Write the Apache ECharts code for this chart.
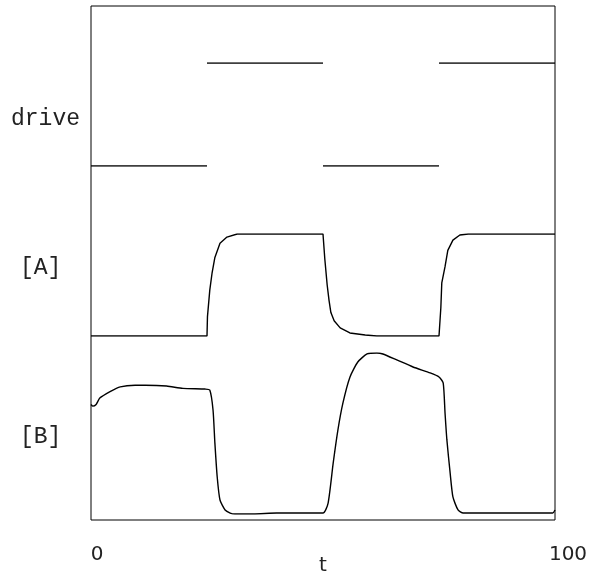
<!DOCTYPE html>
<html>
<head>
<meta charset="utf-8">
<script src="https://cdn.jsdelivr.net/npm/echarts@6/dist/echarts.min.js"></script>
<style>
  html, body { margin: 0; padding: 0; background: #fff; }
  #main { width: 590px; height: 581px; }
</style>
</head>
<body>
<div id="main"></div>
<script>
// drive: square wave, null breaks the line at each switch
var driveT = [0, 25, 25, 25, 50, 50, 50, 75, 75, 75, 100];
var driveV = [0, 0, null, 1, 1, null, 0, 0, null, 1, 1];

// [A] (scaled 0..1)
var aT = [0, 25, 25.1, 25.6, 26.1, 26.7, 27.8, 29.3, 31.5, 50, 50.4, 50.9, 51.3, 51.7, 52.4, 53.7, 55.8, 59.1, 61.6,
          75, 75.4, 75.6, 76.3, 76.9, 78.0, 79.5, 81.3, 100];
var aV = [0, 0, 0.19, 0.45, 0.62, 0.77, 0.91, 0.97, 1, 1, 0.75, 0.5, 0.35, 0.23, 0.15, 0.08, 0.03, 0.01, 0,
          0, 0.28, 0.52, 0.68, 0.84, 0.94, 0.99, 1, 1];

// [B] (scaled 0..1)
var bT = [0, 0.4, 1.1, 1.9, 4.1, 6.3, 9.5, 11.7, 16.3, 19.8, 24.6, 25.6, 26.3, 26.7, 27.2, 27.8, 28.9, 30.0, 31.0, 35, 40,
          50, 51.1, 52.2, 53.2, 54.3, 55.8, 57.5, 59.5, 61.6, 62.9, 65.9, 69.4, 73.1, 75, 75.9, 76.3, 76.7, 77.4, 78.0, 79.1, 80.2,
          99.5, 100];
var bV = [0.68, 0.67, 0.68, 0.72, 0.76, 0.79, 0.80, 0.80, 0.795, 0.78, 0.776, 0.77, 0.646, 0.44, 0.23, 0.087, 0.025, 0.006, 0, 0, 0.006,
          0.006, 0.068, 0.317, 0.52, 0.69, 0.85, 0.944, 0.994, 1, 0.994, 0.957, 0.913, 0.876, 0.851, 0.814, 0.627, 0.46, 0.255, 0.106, 0.025, 0.006,
          0.006, 0.025];

var rowLabels = ['drive', '[A]', '[B]'];
var xTicks = ['0', '100'];
var xName = 't';

function pairs(t, v) {
    var out = [];
    for (var i = 0; i < t.length; i++) {
        out.push([t[i], v[i] === null ? '-' : v[i]]);
    }
    return out;
}

var myChart = echarts.init(document.getElementById('main'));

var hiddenX = function (i) {
    return { type: 'value', gridIndex: i, min: 0, max: 100, show: false };
};
var hiddenY = function (i) {
    return { type: 'value', gridIndex: i, min: 0, max: 1, show: false };
};
var lineStyle = { color: '#000', width: 1.4 };

var option = {
    animation: false,
    backgroundColor: '#fff',
    grid: [
        { left: 91, right: 35, top: 6, bottom: 61, outerBoundsMode: 'none', containLabel: false,
          show: true, borderColor: '#000', borderWidth: 1, backgroundColor: 'transparent' },
        { left: 91, right: 35, top: 63, height: 103, outerBoundsMode: 'none' },
        { left: 91, right: 35, top: 234, height: 102, outerBoundsMode: 'none' },
        { left: 91, right: 35, top: 353, height: 161, outerBoundsMode: 'none' }
    ],
    xAxis: [
        {
            type: 'value', gridIndex: 0, min: 0, max: 100, interval: 100,
            axisLine: { show: false }, axisTick: { show: false }, splitLine: { show: false },
            axisLabel: {
                margin: 25,
                fontFamily: 'DejaVu Sans', fontSize: 20, color: '#222',
                formatter: function (v) {
                    return v === 0 ? '{a|' + xTicks[0] + '}' : '{b|' + xTicks[1] + '}';
                },
                rich: {
                    a: { fontFamily: 'DejaVu Sans', fontSize: 20, color: '#222', padding: [0, 0, 0, 12] },
                    b: { fontFamily: 'DejaVu Sans', fontSize: 20, color: '#222', padding: [0, 0, 0, 26] }
                }
            },
            name: xName, nameLocation: 'middle', nameGap: 36, nameMoveOverlap: false,
            nameTextStyle: { fontFamily: 'DejaVu Sans', fontSize: 20, color: '#222' }
        },
        hiddenX(1), hiddenX(2), hiddenX(3)
    ],
    yAxis: [
        { type: 'value', gridIndex: 0, min: 0, max: 1, show: false },
        hiddenY(1), hiddenY(2), hiddenY(3)
    ],
    graphic: [
        { type: 'text', left: 11, top: 107, style: { text: rowLabels[0], font: '23px "Liberation Mono"', fill: '#222' } },
        { type: 'text', left: 20, top: 256, style: { text: rowLabels[1], font: '23px "Liberation Mono"', fill: '#222' } },
        { type: 'text', left: 20, top: 425, style: { text: rowLabels[2], font: '23px "Liberation Mono"', fill: '#222' } }
    ],
    series: [
        { name: 'drive', type: 'line', xAxisIndex: 1, yAxisIndex: 1, data: pairs(driveT, driveV),
          showSymbol: false, symbol: 'none', connectNulls: false, lineStyle: lineStyle, silent: true },
        { name: 'A', type: 'line', xAxisIndex: 2, yAxisIndex: 2, data: pairs(aT, aV),
          showSymbol: false, symbol: 'none', lineStyle: lineStyle, silent: true },
        { name: 'B', type: 'line', xAxisIndex: 3, yAxisIndex: 3, data: pairs(bT, bV),
          showSymbol: false, symbol: 'none', smooth: 0.2, lineStyle: lineStyle, silent: true }
    ]
};

myChart.setOption(option);
</script>
</body>
</html>
